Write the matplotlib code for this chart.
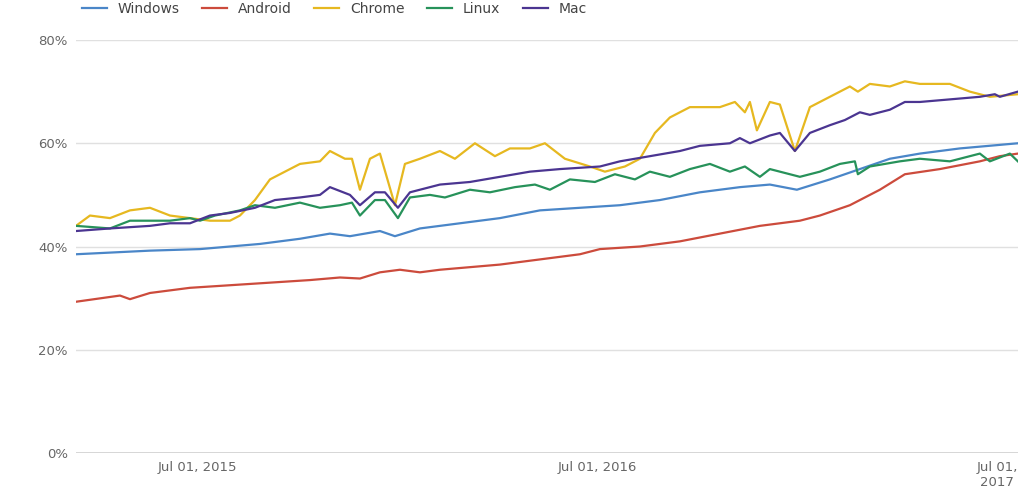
import matplotlib
matplotlib.use("Agg")
import matplotlib.pyplot as plt

win_t = [2015.1975,2015.3825,2015.5075,2015.6575,2015.7575,2015.8325,2015.8825,2015.9575,2015.995,2016.0575,2016.1575,2016.2575,2016.3575,2016.4575,2016.5575,2016.6575,2016.7575,2016.8575,2016.9325,2017.0,2017.0825,2017.1575,2017.2325,2017.3075,2017.4075,2017.5525]
win_v = [38.5,39.2,39.5,40.5,41.5,42.5,42.0,43.0,42.0,43.5,44.5,45.5,47.0,47.5,48.0,49.0,50.5,51.5,52.0,51.0,53.0,55.0,57.0,58.0,59.0,60.0]

and_t = [2015.1975,2015.3075,2015.3325,2015.3825,2015.4825,2015.5825,2015.6825,2015.7825,2015.8575,2015.9075,2015.9575,2016.0075,2016.0575,2016.1075,2016.1825,2016.2575,2016.3575,2016.4575,2016.5075,2016.6075,2016.7075,2016.8075,2016.9075,2017.0075,2017.0575,2017.1325,2017.2075,2017.27,2017.3575,2017.4575,2017.5075,2017.5525]
and_v = [29.3,30.5,29.8,31.0,32.0,32.5,33.0,33.5,34.0,33.8,35.0,35.5,35.0,35.5,36.0,36.5,37.5,38.5,39.5,40.0,41.0,42.5,44.0,45.0,46.0,48.0,51.0,54.0,55.0,56.5,57.5,58.0]

chr_t = [2015.1975,2015.2325,2015.2825,2015.3325,2015.3825,2015.4325,2015.4825,2015.5325,2015.5825,2015.6075,2015.645,2015.6825,2015.7075,2015.7575,2015.8075,2015.8325,2015.87,2015.8875,2015.9075,2015.9325,2015.9575,2015.995,2016.02,2016.0575,2016.1075,2016.145,2016.195,2016.245,2016.2825,2016.3325,2016.37,2016.42,2016.4825,2016.52,2016.57,2016.6075,2016.645,2016.6825,2016.7325,2016.8075,2016.845,2016.87,2016.8825,2016.9,2016.9325,2016.9575,2016.995,2017.0325,2017.0575,2017.1075,2017.1325,2017.1525,2017.1825,2017.2325,2017.27,2017.3075,2017.3825,2017.4325,2017.4825,2017.5525]
chr_v = [44.0,46.0,45.5,47.0,47.5,46.0,45.5,45.0,45.0,46.0,49.0,53.0,54.0,56.0,56.5,58.5,57.0,57.0,51.0,57.0,58.0,48.0,56.0,57.0,58.5,57.0,60.0,57.5,59.0,59.0,60.0,57.0,55.5,54.5,55.5,57.0,62.0,65.0,67.0,67.0,68.0,66.0,68.0,62.5,68.0,67.5,58.5,67.0,68.0,70.0,71.0,70.0,71.5,71.0,72.0,71.5,71.5,70.0,69.0,69.5]

lin_t = [2015.1975,2015.2825,2015.3325,2015.4325,2015.4825,2015.5075,2015.545,2015.6075,2015.645,2015.695,2015.7575,2015.8075,2015.8575,2015.8875,2015.9075,2015.945,2015.97,2016.0025,2016.0325,2016.0825,2016.12,2016.1825,2016.2325,2016.295,2016.345,2016.3825,2016.4325,2016.495,2016.545,2016.595,2016.6325,2016.6825,2016.7325,2016.7825,2016.8325,2016.87,2016.9075,2016.9325,2016.9825,2017.0075,2017.0575,2017.1075,2017.145,2017.1525,2017.1825,2017.2575,2017.3075,2017.3825,2017.4325,2017.4575,2017.4825,2017.5325,2017.5525]
lin_v = [44.0,43.5,45.0,45.0,45.5,45.0,46.0,47.0,48.0,47.5,48.5,47.5,48.0,48.5,46.0,49.0,49.0,45.5,49.5,50.0,49.5,51.0,50.5,51.5,52.0,51.0,53.0,52.5,54.0,53.0,54.5,53.5,55.0,56.0,54.5,55.5,53.5,55.0,54.0,53.5,54.5,56.0,56.5,54.0,55.5,56.5,57.0,56.5,57.5,58.0,56.5,58.0,56.5]

mac_t = [2015.1975,2015.2825,2015.3825,2015.4325,2015.4825,2015.5325,2015.5825,2015.645,2015.695,2015.7575,2015.8075,2015.8325,2015.8825,2015.9075,2015.945,2015.97,2016.0025,2016.0325,2016.1075,2016.1825,2016.2575,2016.3325,2016.4075,2016.5075,2016.5575,2016.6325,2016.7075,2016.7575,2016.8325,2016.8575,2016.8825,2016.9325,2016.9575,2016.995,2017.0325,2017.0825,2017.12,2017.1575,2017.1825,2017.2325,2017.27,2017.3075,2017.3825,2017.4575,2017.495,2017.5075,2017.5525]
mac_v = [43.0,43.5,44.0,44.5,44.5,46.0,46.5,47.5,49.0,49.5,50.0,51.5,50.0,48.0,50.5,50.5,47.5,50.5,52.0,52.5,53.5,54.5,55.0,55.5,56.5,57.5,58.5,59.5,60.0,61.0,60.0,61.5,62.0,58.5,62.0,63.5,64.5,66.0,65.5,66.5,68.0,68.0,68.5,69.0,69.5,69.0,70.0]

series = [("Windows", win_t, win_v, "#4a86c8"),
          ("Android", and_t, and_v, "#cc4b3c"),
          ("Chrome", chr_t, chr_v, "#e6b820"),
          ("Linux", lin_t, lin_v, "#27925a"),
          ("Mac", mac_t, mac_v, "#4b3591")]

tick_pos = [2015.5, 2016.5, 2017.5]
tick_lab = ["Jul 01, 2015", "Jul 01, 2016", "Jul 01,\n2017"]
y_ticks = [0, 20, 40, 60, 80]

fig = plt.figure(figsize=(10.24, 4.88), dpi=100)
ax = fig.add_axes([0.0742, 0.0717, 0.9198, 0.8463])
for name, t, v, c in series:
    ax.plot(t, v, color=c, lw=1.6, label=name)
ax.set_xlim(2015.1975, 2017.5525)
ax.set_ylim(0, 80)
ax.set_yticks(y_ticks)
ax.set_yticklabels([f"{y}%" for y in y_ticks], color="#666666", fontsize=9.5)
ax.set_xticks(tick_pos)
ax.set_xticklabels(tick_lab, color="#666666", fontsize=9.5)
ax.tick_params(length=0, pad=6)
for y in y_ticks:
    ax.axhline(y, color="#333333" if y == 0 else "#e0e0e0", lw=1, zorder=0)
for s in ax.spines.values():
    s.set_visible(False)
ax.legend(loc="lower left", bbox_to_anchor=(0.0, 1.045), ncol=5, frameon=False,
          fontsize=10, handlelength=1.8, columnspacing=1.6, borderaxespad=0,
          labelcolor="#444444")
fig.savefig("out.png", dpi=100)
